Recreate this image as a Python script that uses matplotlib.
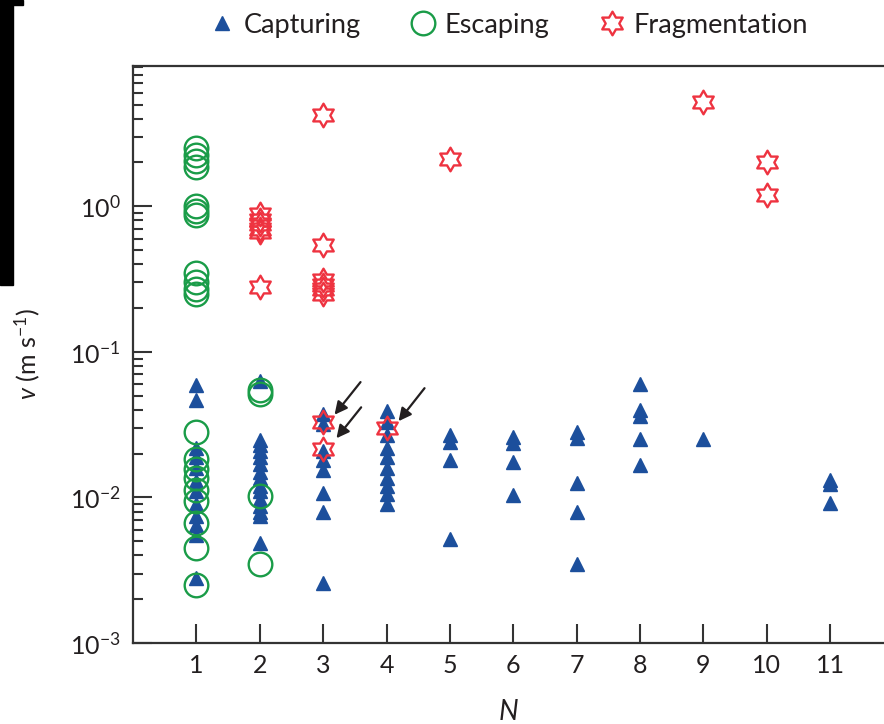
import numpy as np
import matplotlib
matplotlib.use('Agg')
import matplotlib.pyplot as plt
from matplotlib.path import Path
from matplotlib.patches import Rectangle

plt.rcParams['font.family'] = ['Lato', 'DejaVu Sans']
plt.rcParams['mathtext.fontset'] = 'custom'
plt.rcParams['mathtext.rm'] = 'Lato'
plt.rcParams['mathtext.it'] = 'Lato:italic'
plt.rcParams['mathtext.default'] = 'regular'

# ---- data ----
capturing_n = [1]*12 + [2]*15 + [3]*8 + [4]*10 + [5]*4 + [6]*4 + [7]*5 + [8]*5 + [9] + [11]*3
capturing_v = [0.059, 0.047, 0.022, 0.019, 0.016, 0.013, 0.011, 0.009, 0.0075, 0.0065, 0.0055, 0.0028,
               0.063, 0.025, 0.023, 0.021, 0.019, 0.017, 0.015, 0.0135, 0.012, 0.011, 0.0098, 0.0088, 0.008, 0.0075, 0.0049,
               0.0376, 0.032, 0.021, 0.018, 0.0155, 0.0108, 0.008, 0.0026,
               0.039, 0.033, 0.027, 0.022, 0.019, 0.016, 0.0135, 0.012, 0.0105, 0.009,
               0.027, 0.024, 0.018, 0.0052,
               0.026, 0.0235, 0.0175, 0.0104,
               0.028, 0.0255, 0.0125, 0.0079, 0.0035,
               0.060, 0.040, 0.0365, 0.0254, 0.0168,
               0.0254,
               0.0132, 0.0124, 0.0091]

escaping_n = [1]*20 + [2]*4
escaping_v = [2.5, 2.25, 2.05, 1.85, 1.0, 0.93, 0.87, 0.35, 0.3, 0.27, 0.25,
              0.028, 0.0185, 0.0158, 0.0135, 0.0112, 0.0095, 0.0067, 0.0045, 0.0025,
              0.055, 0.051, 0.0103, 0.0035]

fragment_n = [2]*6 + [3]*8 + [4, 5, 9, 10, 10]
fragment_v = [0.88, 0.8, 0.75, 0.7, 0.67, 0.28,
              4.25, 0.54, 0.31, 0.29, 0.27, 0.25, 0.033, 0.0215,
              0.030, 2.1, 5.2, 2.03, 1.2]

# arrows pointing at the marked stars: (tail, head)
arrows = [((3.59, 0.062), (3.18, 0.037)),
          ((3.60, 0.0416), (3.21, 0.0255)),
          ((4.60, 0.0563), (4.19, 0.0334))]

xticks = list(range(1, 12))

blue = '#1c4f9c'
green = '#1a9c48'
red = '#ee3340'
ink = '#231f20'

hexagram = Path.unit_regular_star(6, 1/np.sqrt(3))

fig = plt.figure(figsize=(8.84, 7.24), dpi=100)
ax = fig.add_axes([133/884, 1 - 643/724, 1 - 133/884, (643 - 66)/724])

ax.plot(capturing_n, capturing_v, ls='none', marker='^', ms=10.5, color=blue,
        mec=blue, label='Capturing')
ax.plot(escaping_n, escaping_v, ls='none', marker='o', ms=17, mfc='none', mec=green,
        mew=1.7, label='Escaping')
ax.plot(fragment_n, fragment_v, ls='none', marker=hexagram, ms=17, mfc='none', mec=red,
        mew=1.7, label='Fragmentation')

for tail, head in arrows:
    ax.annotate('', xy=head, xytext=tail,
                arrowprops=dict(arrowstyle='-|>', color=ink, lw=1.6, mutation_scale=19,
                                shrinkA=0, shrinkB=0))

ax.set_yscale('log')
ax.set_ylim(1e-3, 9.2)
ax.set_xlim(0, 11.85)
ax.set_xticks(xticks)
ax.set_xticklabels([str(t) for t in xticks])

ax.spines['right'].set_visible(False)
for s in ['left', 'bottom', 'top']:
    ax.spines[s].set_linewidth(1.6)
    ax.spines[s].set_color('#333333')

ax.tick_params(axis='both', which='major', direction='in', length=14, width=1.5,
               color='#333333', labelsize=18, labelcolor=ink, pad=9)
ax.tick_params(axis='y', which='minor', direction='in', length=7.5, width=1.5,
               color='#333333')
ax.tick_params(axis='x', which='minor', bottom=False)
ax.tick_params(axis='x', which='major', pad=8)

ax.set_xlabel('$\\it{N}$', fontsize=20, color=ink, labelpad=16)
ax.set_ylabel('$\\it{v}$ (m s$^{-1}$)', fontsize=18, color=ink, labelpad=20)

fig.legend(loc='center', bbox_to_anchor=(0.575, 0.965), ncol=3, frameon=False,
           fontsize=19.5, handletextpad=0.3, columnspacing=1.8, handlelength=1.0,
           labelcolor=ink)

# black strip at the left edge of the scanned figure
fig.patches.append(Rectangle((0, 1 - 285/724), 13/884, 285/724, transform=fig.transFigure,
                             color='black', zorder=5))
fig.patches.append(Rectangle((0, 1 - 5/724), 23/884, 5/724, transform=fig.transFigure,
                             color='black', zorder=5))

fig.savefig('out.png', dpi=100)
